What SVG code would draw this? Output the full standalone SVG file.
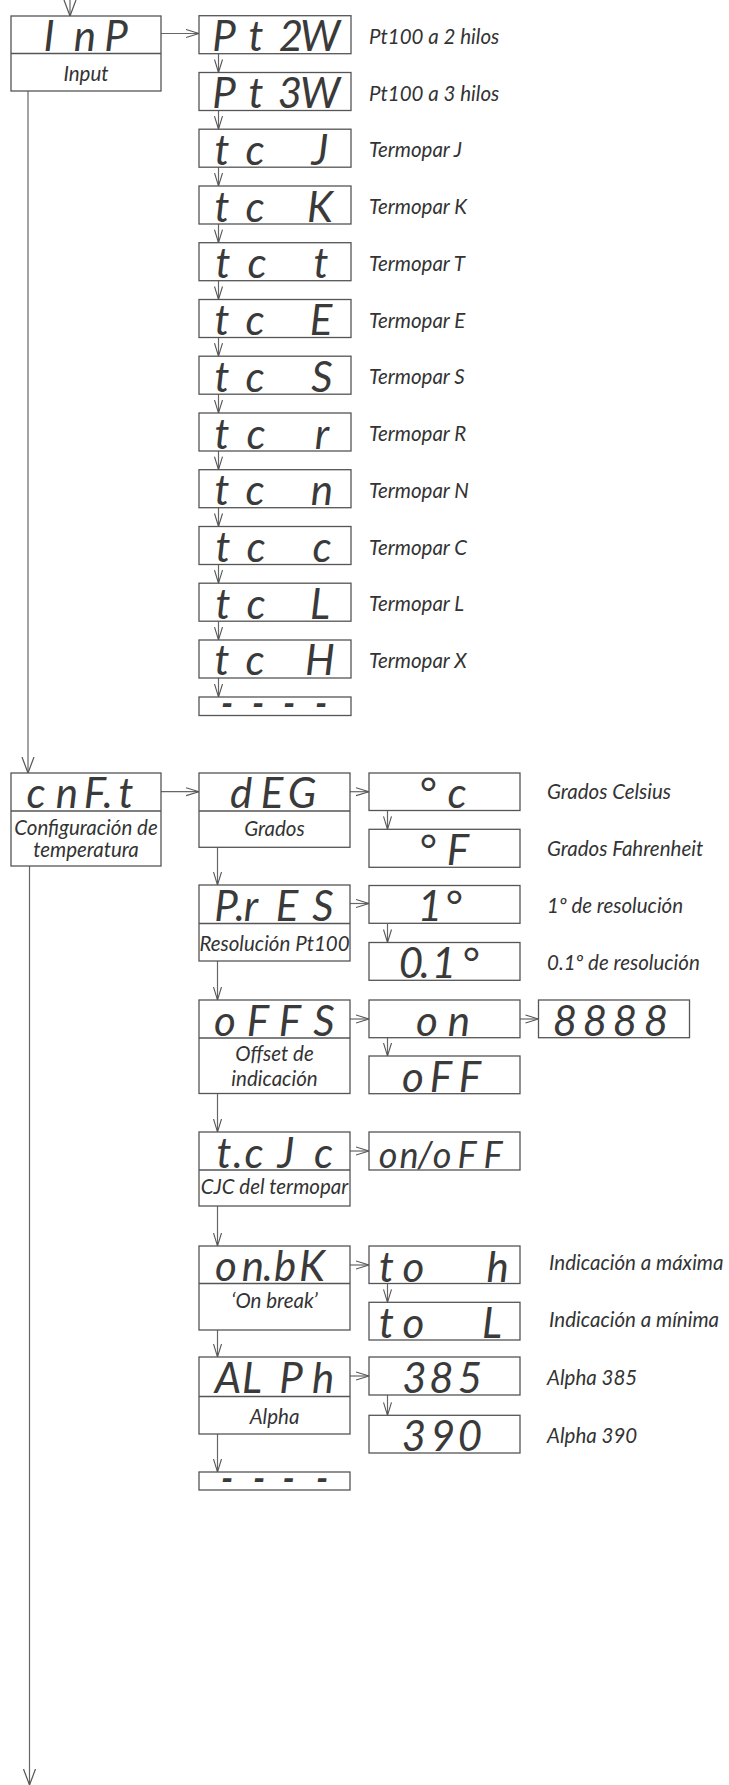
<svg xmlns="http://www.w3.org/2000/svg" width="729" height="1785" viewBox="0 0 729 1785">
<defs>
<marker id="ah" markerWidth="15" markerHeight="10" refX="13.5" refY="5" orient="auto" markerUnits="userSpaceOnUse"><path d="M0.5,1 L13.5,5 L0.5,9" fill="none" stroke="#555" stroke-width="1.1"/></marker>
<marker id="ahL" markerWidth="18" markerHeight="14" refX="16.5" refY="7" orient="auto" markerUnits="userSpaceOnUse"><path d="M0.5,1 L16.5,7 L0.5,13" fill="none" stroke="#555" stroke-width="1.2"/></marker>
</defs>
<style>
.bx{fill:#fff;stroke:#555;stroke-width:1.3}
.dv{stroke:#555;stroke-width:1.3}
.seg{font-family:Lato,"DejaVu Sans",sans-serif;font-style:italic;font-weight:400;font-size:42px;fill:#3a3a3a;text-anchor:middle}
.dash{font-weight:900;font-size:34px}
.lb{font-family:Lato,"Open Sans",sans-serif;font-style:italic;font-size:20.5px;fill:#333}
.lc{font-family:Lato,"Open Sans",sans-serif;font-style:italic;font-size:20.5px;fill:#333;text-anchor:middle}
.cn{fill:none;stroke:#666;stroke-width:1.2}
</style>
<rect width="729" height="1785" fill="#fff"/>

<g id="connectors">
<line class="cn" x1="70" y1="0" x2="70" y2="16" marker-end="url(#ahL)"/>
<line class="cn" x1="161" y1="33.5" x2="199" y2="33.5" marker-end="url(#ah)"/>
<line class="cn" x1="28" y1="91" x2="28" y2="773" marker-end="url(#ahL)"/>
<line class="cn" x1="29.5" y1="866" x2="29.5" y2="1785" marker-end="url(#ahL)"/>
<line class="cn" x1="218.5" y1="53.7" x2="218.5" y2="72.5" marker-end="url(#ah)"/>
<line class="cn" x1="218.5" y1="110.5" x2="218.5" y2="129.2" marker-end="url(#ah)"/>
<line class="cn" x1="218.5" y1="167.2" x2="218.5" y2="186" marker-end="url(#ah)"/>
<line class="cn" x1="218.5" y1="224" x2="218.5" y2="242.7" marker-end="url(#ah)"/>
<line class="cn" x1="218.5" y1="280.7" x2="218.5" y2="299.5" marker-end="url(#ah)"/>
<line class="cn" x1="218.5" y1="337.5" x2="218.5" y2="356.2" marker-end="url(#ah)"/>
<line class="cn" x1="218.5" y1="394.2" x2="218.5" y2="413" marker-end="url(#ah)"/>
<line class="cn" x1="218.5" y1="451" x2="218.5" y2="469.7" marker-end="url(#ah)"/>
<line class="cn" x1="218.5" y1="507.7" x2="218.5" y2="526.5" marker-end="url(#ah)"/>
<line class="cn" x1="218.5" y1="564.5" x2="218.5" y2="583.2" marker-end="url(#ah)"/>
<line class="cn" x1="218.5" y1="621.2" x2="218.5" y2="640" marker-end="url(#ah)"/>
<line class="cn" x1="218.5" y1="678" x2="218.5" y2="697" marker-end="url(#ah)"/>
<line class="cn" x1="161" y1="791.7" x2="199" y2="791.7" marker-end="url(#ah)"/>
<line class="cn" x1="350" y1="791.7" x2="369" y2="791.7" marker-end="url(#ah)"/>
<line class="cn" x1="387.5" y1="810.5" x2="387.5" y2="829.3" marker-end="url(#ah)"/>
<line class="cn" x1="217.5" y1="847.3" x2="217.5" y2="885" marker-end="url(#ah)"/>
<line class="cn" x1="350" y1="903.5" x2="369" y2="903.5" marker-end="url(#ah)"/>
<line class="cn" x1="387.5" y1="923.3" x2="387.5" y2="942.5" marker-end="url(#ah)"/>
<line class="cn" x1="217.5" y1="961" x2="217.5" y2="1000" marker-end="url(#ah)"/>
<line class="cn" x1="350" y1="1019" x2="369" y2="1019" marker-end="url(#ah)"/>
<line class="cn" x1="520" y1="1019" x2="538.5" y2="1019" marker-end="url(#ah)"/>
<line class="cn" x1="387.5" y1="1037.7" x2="387.5" y2="1056" marker-end="url(#ah)"/>
<line class="cn" x1="217.5" y1="1093.5" x2="217.5" y2="1132" marker-end="url(#ah)"/>
<line class="cn" x1="350" y1="1151" x2="369" y2="1151" marker-end="url(#ah)"/>
<line class="cn" x1="217.5" y1="1206" x2="217.5" y2="1246" marker-end="url(#ah)"/>
<line class="cn" x1="350" y1="1265" x2="369" y2="1265" marker-end="url(#ah)"/>
<line class="cn" x1="387.5" y1="1283.5" x2="387.5" y2="1302.3" marker-end="url(#ah)"/>
<line class="cn" x1="217.5" y1="1330" x2="217.5" y2="1357" marker-end="url(#ah)"/>
<line class="cn" x1="350" y1="1376" x2="369" y2="1376" marker-end="url(#ah)"/>
<line class="cn" x1="387.5" y1="1395" x2="387.5" y2="1415.3" marker-end="url(#ah)"/>
<line class="cn" x1="217.5" y1="1434" x2="217.5" y2="1472" marker-end="url(#ah)"/>
</g>

<g id="inp">
<rect class="bx" x="11" y="16" width="150" height="75"/>
<line class="dv" x1="11" y1="53.5" x2="161" y2="53.5"/>
<text class="seg" x="49 85 116" y="50.5">InP</text>
<text class="lc" x="86" y="80.5">Input</text>
</g>

<g id="pt2w"><rect class="bx" x="199" y="15.7" width="152" height="38"/><text class="seg" x="224 256 291 320" y="51.2">Pt2W</text><text class="lb" x="369" y="43.5">Pt100 a 2 hilos</text></g>
<g id="pt3w"><rect class="bx" x="199" y="72.5" width="152" height="38"/><text class="seg" x="224 256 290 320" y="108">Pt3W</text><text class="lb" x="369" y="100.5">Pt100 a 3 hilos</text></g>
<g id="tcj"><rect class="bx" x="199" y="129.2" width="152" height="38"/><text class="seg" x="222 255 320" y="164.7">tcJ</text><text class="lb" x="369" y="157.2">Termopar J</text></g>
<g id="tck"><rect class="bx" x="199" y="186" width="152" height="38"/><text class="seg" x="222 255 320" y="221.5">tcK</text><text class="lb" x="369" y="214">Termopar K</text></g>
<g id="tct"><rect class="bx" x="199" y="242.7" width="152" height="38"/><text class="seg" x="223 257 321" y="278.2">tct</text><text class="lb" x="369" y="270.7">Termopar T</text></g>
<g id="tce"><rect class="bx" x="199" y="299.5" width="152" height="38"/><text class="seg" x="222 255 321" y="335">tcE</text><text class="lb" x="369" y="327.5">Termopar E</text></g>
<g id="tcs"><rect class="bx" x="199" y="356.2" width="152" height="38"/><text class="seg" x="222 255 322" y="391.7">tcS</text><text class="lb" x="369" y="384.2">Termopar S</text></g>
<g id="tcr"><rect class="bx" x="199" y="413" width="152" height="38"/><text class="seg" x="222 256 322" y="448.5">tcr</text><text class="lb" x="369" y="441">Termopar R</text></g>
<g id="tcn"><rect class="bx" x="199" y="469.7" width="152" height="38"/><text class="seg" x="222 255 322" y="505.2">tcn</text><text class="lb" x="369" y="497.7">Termopar N</text></g>
<g id="tcc"><rect class="bx" x="199" y="526.5" width="152" height="38"/><text class="seg" x="223 256 322" y="562">tcc</text><text class="lb" x="369" y="554.5">Termopar C</text></g>
<g id="tcl"><rect class="bx" x="199" y="583.2" width="152" height="38"/><text class="seg" x="223 256 320" y="618.7">tcL</text><text class="lb" x="369" y="611.2">Termopar L</text></g>
<g id="tch"><rect class="bx" x="199" y="640" width="152" height="38"/><text class="seg" x="222 255 320" y="675">tcH</text><text class="lb" x="369" y="668">Termopar X</text></g>
<g id="end1"><rect class="bx" x="199" y="697" width="152" height="18.5"/><text class="seg dash" x="227 258 289 321" y="716">----</text></g>

<g id="cnft">
<rect class="bx" x="11" y="773" width="150" height="93"/>
<line class="dv" x1="11" y1="811" x2="161" y2="811"/>
<text class="seg" x="36 67 95 108 126" y="807.5">cnF.t</text>
<text class="lc" x="86" y="834.5">Configuración de</text>
<text class="lc" x="86" y="857">temperatura</text>
</g>

<g id="deg">
<rect class="bx" x="199" y="773" width="151" height="74.3"/>
<line class="dv" x1="199" y1="811" x2="350" y2="811"/>
<text class="seg" x="241 272 302" y="808">dEG</text>
<text class="lc" x="274.5" y="836">Grados</text>
</g>
<g id="degc"><rect class="bx" x="369" y="773" width="151" height="37.5"/><text class="seg" x="427 457" y="808">°c</text><text class="lb" x="547" y="799">Grados Celsius</text></g>
<g id="degf"><rect class="bx" x="369" y="829.3" width="151" height="38"/><text class="seg" x="427 458" y="864.8">°F</text><text class="lb" x="547" y="856">Grados Fahrenheit</text></g>

<g id="pres">
<rect class="bx" x="199" y="885" width="151" height="76"/>
<line class="dv" x1="199" y1="923.5" x2="350" y2="923.5"/>
<text class="seg" x="226 240 251 287 323" y="920.5">P.rES</text>
<text class="lc" x="274.5" y="951">Resolución Pt100</text>
</g>
<g id="res1"><rect class="bx" x="369" y="885.5" width="151" height="37.8"/><text class="seg" x="430 453" y="921">1°</text><text class="lb" x="547" y="913">1º de resolución</text></g>
<g id="res01"><rect class="bx" x="369" y="942.5" width="151" height="37.8"/><text class="seg" x="411 425 444 470" y="978">0.1°</text><text class="lb" x="547" y="969.5">0.1º de resolución</text></g>

<g id="offs">
<rect class="bx" x="199" y="1000" width="151" height="93.5"/>
<line class="dv" x1="199" y1="1038" x2="350" y2="1038"/>
<text class="seg" x="225 258 290 324" y="1035.5">oFFS</text>
<text class="lc" x="274.5" y="1061">Offset de</text>
<text class="lc" x="274.5" y="1085.5">indicación</text>
</g>
<g id="on"><rect class="bx" x="369" y="1000" width="151" height="37.7"/><text class="seg" x="427 459" y="1035.5">on</text></g>
<g id="val"><rect class="bx" x="538.5" y="1000" width="151" height="37.7"/><text class="seg" x="565 595 625 656" y="1035.5">8888</text></g>
<g id="off"><rect class="bx" x="369" y="1056" width="151" height="37.7"/><text class="seg" x="413 441 470" y="1091.5">oFF</text></g>

<g id="tcjc">
<rect class="bx" x="199" y="1132" width="151" height="74"/>
<line class="dv" x1="199" y1="1170" x2="350" y2="1170"/>
<text class="seg" x="224 238 254 286 323.5" y="1167.5">t.cJc</text>
<text class="lc" x="274.5" y="1193.5">CJC del termopar</text>
</g>
<g id="onoff"><rect class="bx" x="369" y="1132" width="151" height="38"/><text class="seg" x="388 409 425 442 467 493" y="1167.5" style="font-size:36px">on/oFF</text></g>

<g id="onbk">
<rect class="bx" x="199" y="1246" width="151" height="84"/>
<line class="dv" x1="199" y1="1283.5" x2="350" y2="1283.5"/>
<text class="seg" x="226 253 268 285 312" y="1281">on.bK</text>
<text class="lc" x="274.5" y="1308">‘On break’</text>
</g>
<g id="toh"><rect class="bx" x="369" y="1246" width="151" height="37.5"/><text class="seg" x="386.5 413.5 497.5" y="1281.5">toh</text><text class="lb" x="549" y="1269.5">Indicación a máxima</text></g>
<g id="tol"><rect class="bx" x="369" y="1302.3" width="151" height="37.7"/><text class="seg" x="386.5 413.5 492" y="1337.8">toL</text><text class="lb" x="549" y="1327">Indicación a mínima</text></g>

<g id="alph">
<rect class="bx" x="199" y="1357" width="151" height="77"/>
<line class="dv" x1="199" y1="1396.5" x2="350" y2="1396.5"/>
<text class="seg" x="228 252 291 323" y="1393">ALPh</text>
<text class="lc" x="274.5" y="1423.5">Alpha</text>
</g>
<g id="a385"><rect class="bx" x="369" y="1357" width="151" height="38"/><text class="seg" x="414.5 441.5 470" y="1393">385</text><text class="lb" x="547" y="1385">Alpha 385</text></g>
<g id="a390"><rect class="bx" x="369" y="1415.3" width="151" height="37.7"/><text class="seg" x="414 443 470" y="1450.8">390</text><text class="lb" x="547" y="1443">Alpha 390</text></g>
<g id="end2"><rect class="bx" x="199" y="1472" width="151" height="18"/><text class="seg dash" x="227 259 288.5 322" y="1490.5">----</text></g>
</svg>
